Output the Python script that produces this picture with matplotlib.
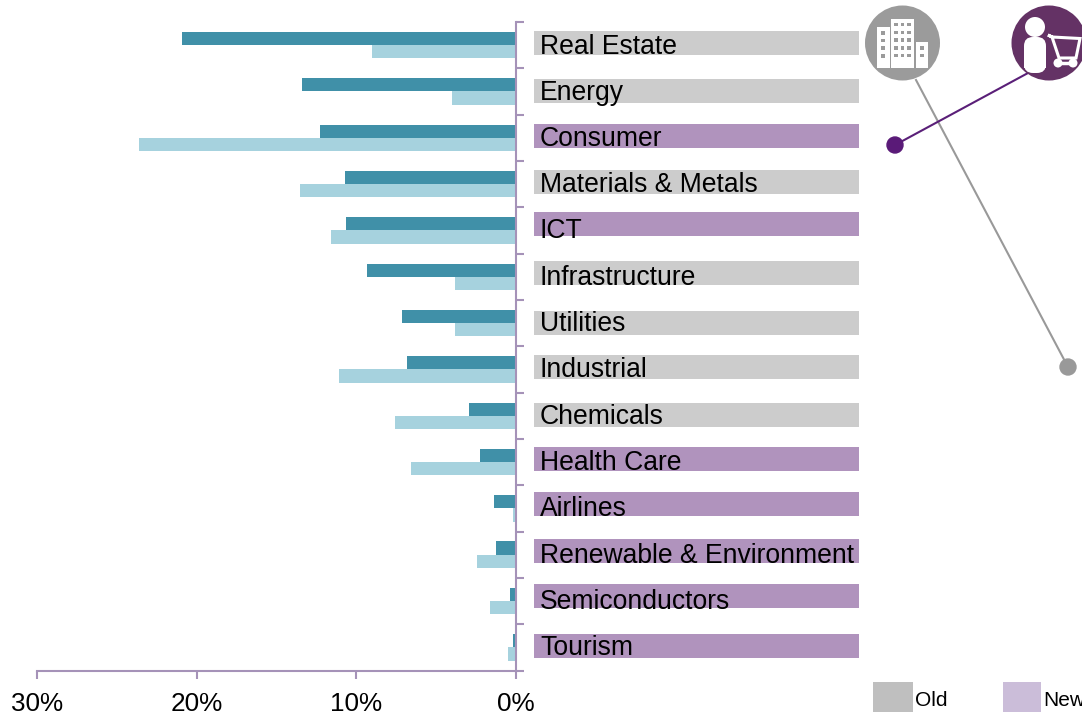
import matplotlib
matplotlib.use("Agg")
import matplotlib.pyplot as plt
from matplotlib.patches import Circle, Rectangle, Polygon, FancyBboxPatch

plt.rcParams['font.family'] = ['Liberation Sans', 'DejaVu Sans']

categories = ["Real Estate", "Energy", "Consumer", "Materials & Metals", "ICT", "Infrastructure",
              "Utilities", "Industrial", "Chemicals", "Health Care", "Airlines",
              "Renewable & Environment", "Semiconductors", "Tourism"]
dark_values = [20.9, 13.4, 12.3, 10.7, 10.65, 9.35, 7.15, 6.8, 2.95, 2.25, 1.4, 1.25, 0.4, 0.2]
light_values = [9.0, 4.0, 23.6, 13.5, 11.6, 3.8, 3.8, 11.1, 7.6, 6.6, 0.2, 2.45, 1.65, 0.5]
status = ["Old", "Old", "New", "Old", "New", "Old", "Old", "Old", "Old", "New", "New", "New", "New", "New"]
x_ticks = [30, 20, 10, 0]
x_tick_labels = ["30%", "20%", "10%", "0%"]

# layout in pixels
band_tops = [31, 79, 124, 170, 212, 261, 311, 355, 403, 447, 492, 539, 584, 634]
text_centres = [47, 93, 139, 185, 231, 278, 324, 370, 417, 463, 509, 556, 602, 648]
W, H = 1082, 714
AX = '#a592b8'
band_col = {"Old": '#cccccc', "New": '#b093bd'}

fig = plt.figure(figsize=(W / 100, H / 100), dpi=100)
bg = fig.add_axes([0, 0, 1, 1])
bg.set_xlim(0, W); bg.set_ylim(H, 0); bg.axis('off')

ax = fig.add_axes([37 / W, 1 - 670.5 / H, (516 - 37) / W, (670.5 - 22) / H])
ax.patch.set_alpha(0)
n = len(categories)
ys = list(range(n))
bh = 0.285
ax.barh([y - bh / 2 for y in ys], dark_values, height=bh, color='#4090a8')
ax.barh([y + bh / 2 for y in ys], light_values, height=bh, color='#a6d2de')
ax.set_xlim(30, 0)
ax.set_ylim(n - 0.5, -0.5)
ax.yaxis.tick_right()
ax.set_yticks([i - 0.5 for i in range(n + 1)])
ax.set_yticklabels([])
ax.set_xticks(x_ticks)
ax.set_xticklabels(x_tick_labels, fontsize=18.8, color='black')
ax.tick_params(axis='both', color=AX, width=1.5, length=6)
ax.tick_params(axis='x', pad=9.5)
for s in ['left', 'top']:
    ax.spines[s].set_visible(False)
for s in ['right', 'bottom']:
    ax.spines[s].set_color(AX)
    ax.spines[s].set_linewidth(1.5)

for name, st, top, tc in zip(categories, status, band_tops, text_centres):
    bg.add_patch(Rectangle((534, top), 325, 24, color=band_col[st], lw=0))
    bg.text(540, tc, name, fontsize=19.1, va='center', ha='left', color='black', zorder=5)

# callouts
GREY, PURP = '#9b9b9b', '#643265'
bg.plot([916, 1068], [80, 367], color='#999999', lw=1.5, zorder=2)
bg.add_patch(Circle((1068, 367), 8, color='#999999', zorder=3))
bg.plot([1028, 895], [73, 145], color='#5a1f78', lw=1.5, zorder=2)
bg.add_patch(Circle((895, 145), 8, color='#5a1a78', zorder=3))
bg.add_patch(Circle((902.5, 43), 37.5, color=GREY, lw=0, zorder=4))
bg.add_patch(Circle((1049, 43), 37.5, color=PURP, lw=0, zorder=4))

# building icon
for (x0, y0, w, h) in [(877, 27, 13, 41), (891, 19, 23, 49), (916, 42, 12, 26)]:
    bg.add_patch(Rectangle((x0, y0), w, h, color='white', lw=0, zorder=5))
for wy in (31, 38.5, 46, 54):
    bg.add_patch(Rectangle((881, wy), 4, 3.5, color=GREY, lw=0, zorder=6))
for wy in (22.5, 30.5, 38, 46, 53.5):
    for wx in (894, 900.5, 907):
        bg.add_patch(Rectangle((wx, wy), 3.5, 3.5, color=GREY, lw=0, zorder=6))
for wy in (46, 53.5):
    bg.add_patch(Rectangle((920, wy), 4, 3.5, color=GREY, lw=0, zorder=6))

# person and cart icon
bg.add_patch(Circle((1035, 27), 10, color='white', lw=0, zorder=5))
bg.add_patch(FancyBboxPatch((1030, 43), 10, 24, boxstyle='round,pad=6,rounding_size=9',
                            color='white', lw=0, zorder=5))
bg.add_patch(Rectangle((1024, 55), 22, 13, color='white', lw=0, zorder=5))
bg.add_patch(Polygon([(1048, 35), (1052, 37), (1080, 38.5), (1076, 58), (1059, 58), (1052, 37)],
                     fill=False, edgecolor='white', lw=2.2, zorder=5, closed=True))
bg.plot([1058, 1073], [63, 63], color='white', lw=2.5, zorder=5)
bg.add_patch(Circle((1058, 63), 4.5, color='white', lw=0, zorder=5))
bg.add_patch(Circle((1073, 63), 4.5, color='white', lw=0, zorder=5))

# legend
bg.add_patch(Rectangle((873, 682), 40, 30, color='#bfbfbf', lw=0))
bg.text(915, 700, "Old", fontsize=15, va='center', ha='left', color='black')
bg.add_patch(Rectangle((1003, 682), 38, 30, color='#cbbdd9', lw=0))
bg.text(1043, 700, "New", fontsize=15, va='center', ha='left', color='black')

fig.savefig('out.png', dpi=100)
